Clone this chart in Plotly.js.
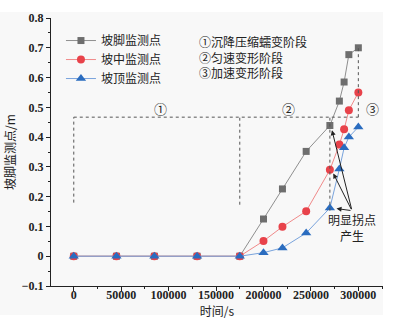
<!DOCTYPE html>
<html><head><meta charset="utf-8">
<script src="https://cdn.plot.ly/plotly-3.0.1.min.js"></script>
<style>body{margin:0;background:#fff}#c{width:397px;height:321px}</style>
</head><body><div id="c"></div>
<script>
var time = [0, 45000, 85000, 130000, 175000, 200000, 220000, 245000, 270000, 280000, 285000, 290000, 300000];
var footVals = [0, 0, 0, 0, 0, 0.125, 0.226, 0.352, 0.439, 0.521, 0.585, 0.677, 0.70];
var midVals  = [0, 0, 0, 0, 0, 0.051, 0.099, 0.151, 0.290, 0.375, 0.426, 0.490, 0.550];
var topVals  = [0, 0, 0, 0, 0, 0.012, 0.028, 0.078, 0.162, 0.293, 0.364, 0.400, 0.434];
var seriesNames = ['坡脚监测点', '坡中监测点', '坡顶监测点'];
var stageTexts = ['①沉降压缩蠕变阶段', '②匀速变形阶段', '③加速变形阶段'];
var stageMarks = ['①', '②', '③'];
var stageMarkX = [91000, 226000, 315000];
var stageLevel = 0.467;
var stageBounds = [0, 175000, 270000, 300000];
var stageBottoms = [0.18, 0.173, 0.153, 0.70];
var turnX = 270000;

var serif = '"Liberation Serif", "DejaVu Serif", serif';
var cjk = '"Noto Sans CJK SC", sans-serif';

var traces = [
  {x: time, y: footVals, name: seriesNames[0], mode: 'lines+markers',
   line: {color: '#8f8f8f', width: 1}, marker: {symbol: 'square', size: 7, color: '#6e6e6e'}},
  {x: time, y: midVals, name: seriesNames[1], mode: 'lines+markers',
   line: {color: '#f08a8a', width: 1}, marker: {symbol: 'circle', size: 8, color: '#e8424a'}},
  {x: time, y: topVals, name: seriesNames[2], mode: 'lines+markers',
   line: {color: '#78a3dc', width: 1}, marker: {symbol: 'triangle-up', size: 9, color: '#2a6cbf'}}
];

var dashLine = {color: '#555', width: 1, dash: 'dot'};
var shapes = [
  {type: 'rect', xref: 'paper', yref: 'paper', x0: -0.16, x1: 1.0, y0: -0.108, y1: 1.022,
   fillcolor: '#f8f8f8', line: {width: 0}, layer: 'below'},
  {type: 'line', xref: 'x', yref: 'y', x0: stageBounds[0], x1: stageBounds[3], y0: stageLevel, y1: stageLevel, line: dashLine},
  {type: 'line', xref: 'x', yref: 'y', x0: stageBounds[0], x1: stageBounds[0], y0: stageBottoms[0], y1: stageLevel, line: dashLine},
  {type: 'line', xref: 'x', yref: 'y', x0: stageBounds[1], x1: stageBounds[1], y0: stageBottoms[1], y1: stageLevel, line: dashLine},
  {type: 'line', xref: 'x', yref: 'y', x0: stageBounds[2], x1: stageBounds[2], y0: stageBottoms[2], y1: stageLevel, line: dashLine},
  {type: 'line', xref: 'x', yref: 'y', x0: stageBounds[3], x1: stageBounds[3], y0: stageLevel, y1: stageBottoms[3], line: dashLine}
];

var annotations = [];
for (var i = 0; i < 3; i++) {
  annotations.push({xref: 'x', yref: 'y', x: stageMarkX[i], y: stageLevel + 0.028, text: stageMarks[i],
    showarrow: false, font: {family: cjk, size: 13, color: '#222'}});
}
annotations.push({xref: 'paper', yref: 'paper', x: 0.44, y: 0.8534, xanchor: 'left', yanchor: 'middle', align: 'left',
  text: stageTexts.join('<br>'), showarrow: false, font: {family: cjk, size: 12, color: '#222'}});
var heads = [[turnX + 2200, footVals[8] - 0.016], [turnX + 3600, midVals[8] - 0.012], [turnX + 7000, topVals[8] - 0.002]];
heads.forEach(function (h) {
  annotations.push({xref: 'x', yref: 'y', axref: 'x', ayref: 'y', x: h[0], y: h[1], ax: 293300, ay: 0.153,
    text: '', showarrow: true, arrowhead: 2, arrowsize: 1, arrowwidth: 1, arrowcolor: '#222'});
});
annotations.push({xref: 'x', yref: 'y', x: 293700, y: 0.095, text: '明显拐点<br>产生', showarrow: false,
  font: {family: cjk, size: 12, color: '#222'}});

var layout = {
  width: 397, height: 321,
  margin: {l: 51, r: 14, t: 18, b: 35},
  paper_bgcolor: '#ffffff', plot_bgcolor: 'rgba(0,0,0,0)',
  showlegend: true,
  legend: {x: 0.03, y: 0.97, xanchor: 'left', yanchor: 'top', bgcolor: 'rgba(0,0,0,0)',
    font: {family: cjk, size: 12, color: '#222'}, itemwidth: 30, tracegroupgap: 0},
  xaxis: {range: [-24000, 326000], tickvals: [0, 50000, 100000, 150000, 200000, 250000, 300000],
    ticktext: ['0', '50000', '100000', '150000', '200000', '250000', '300000'],
    showgrid: false, zeroline: false, showline: true, linecolor: '#222', linewidth: 1,
    ticks: 'outside', ticklen: 4, tickcolor: '#222', ticklabelstandoff: -6,
    minor: {tickvals: [-25000, 25000, 75000, 125000, 175000, 225000, 275000, 325000], ticks: 'outside', ticklen: 2, tickcolor: '#222'},
    tickfont: {family: serif, size: 12, color: '#222', weight: 'bold'},
    title: {text: '时间/s', font: {family: cjk, size: 12, color: '#222'}, standoff: 0}},
  yaxis: {range: [-0.1, 0.8], dtick: 0.1, tick0: 0, showgrid: false, zeroline: false, showline: true,
    linecolor: '#222', linewidth: 1, ticks: 'outside', ticklen: 4, tickcolor: '#222',
    minor: {dtick: 0.05, ticks: 'outside', ticklen: 2, tickcolor: '#222'},
    tickfont: {family: serif, size: 12, color: '#222', weight: 'bold'},
    title: {text: '坡脚监测点/m', font: {family: cjk, size: 12, color: '#222'}, standoff: 3}},
  shapes: shapes,
  annotations: annotations
};
Plotly.newPlot('c', traces, layout, {displayModeBar: false, staticPlot: true});
</script></body></html>
